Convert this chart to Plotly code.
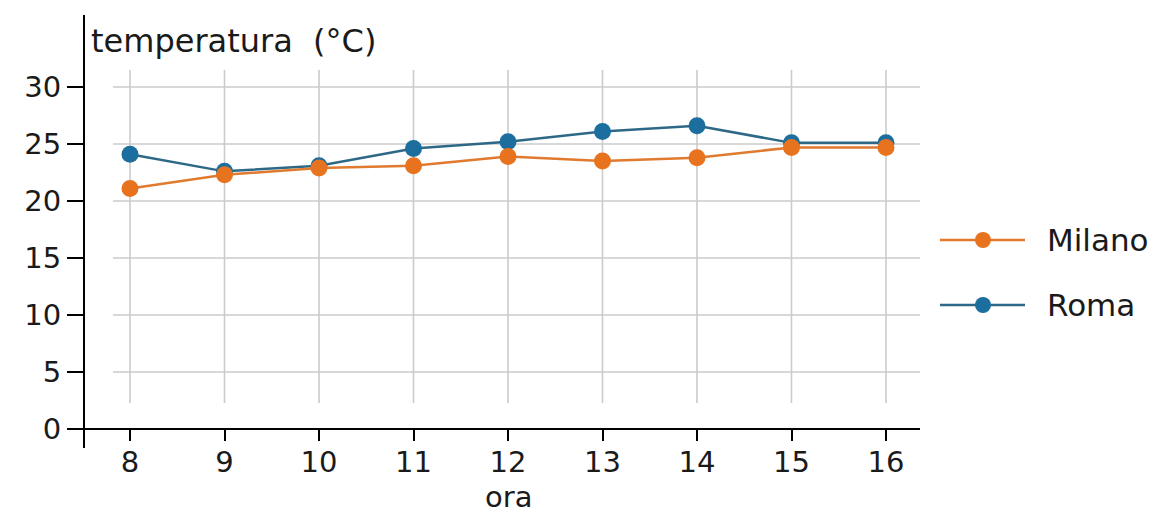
import plotly.graph_objects as go

# ---- data ----
ore = [8, 9, 10, 11, 12, 13, 14, 15, 16]
milano = [21.1, 22.3, 22.9, 23.1, 23.9, 23.5, 23.8, 24.7, 24.7]
roma = [24.1, 22.6, 23.1, 24.6, 25.2, 26.1, 26.6, 25.1, 25.1]
y_ticks = [0, 5, 10, 15, 20, 25, 30]
series_names = ["Milano", "Roma"]
title_y = "temperatura (°C)"
title_x = "ora"

# ---- styling ----
W, H = 1160, 514
L, R, T, B = 68, 240, 15, 66
PW, PH = W - L - R, H - T - B
FONT = "DejaVu Sans"
ORANGE_M, ORANGE_L = "#E8731F", "#E07A2E"
BLUE_M, BLUE_L = "#1B6E9E", "#2D6886"
GRID = "#cbcbcb"

# pixel scale: 94.5 px per hour (8 at x=130), 11.4 px per degree (0 at y=429)
px_h, px_d = 94.5, 11.4
xmin = ore[0] - (130 - L) / px_h
xmax = xmin + PW / px_h
ymin = -(H - B - 429) / px_d
ymax = ymin + PH / px_d
yaxis_pos = (84 - L) / PW
xaxis_pos = (0 - ymin) / (ymax - ymin)

fig = go.Figure()
fig.add_trace(go.Scatter(x=ore, y=roma, name=series_names[1], mode="lines+markers",
                         line=dict(color=BLUE_L, width=2.5),
                         marker=dict(color=BLUE_M, size=17), showlegend=False))
fig.add_trace(go.Scatter(x=ore, y=milano, name=series_names[0], mode="lines+markers",
                         line=dict(color=ORANGE_L, width=2.5),
                         marker=dict(color=ORANGE_M, size=17), showlegend=False))

shapes = []
# horizontal gridlines (not at 0), starting at x=113px
for v in y_ticks[1:]:
    shapes.append(dict(type="line", xref="x domain", yref="y", x0=(113 - L) / PW, x1=1,
                       y0=v, y1=v, line=dict(color=GRID, width=1.6), layer="below"))
# vertical gridlines from y=70px to 403px
g_top = (429 - 70) / px_d
g_bot = (429 - 403) / px_d
for h in ore:
    shapes.append(dict(type="line", xref="x", yref="y", x0=h, x1=h, y0=g_bot, y1=g_top,
                       line=dict(color=GRID, width=1.6), layer="below"))

# manual legend
annotations = []
leg = [(series_names[0], ORANGE_L, ORANGE_M, 240), (series_names[1], BLUE_L, BLUE_M, 305)]
for name, lc, mc, py in leg:
    yp = (H - B - py) / PH
    shapes.append(dict(type="line", xref="paper", yref="paper",
                       x0=(940 - L) / PW, x1=(1025 - L) / PW, y0=yp, y1=yp,
                       line=dict(color=lc, width=2.5)))
    shapes.append(dict(type="circle", xref="paper", yref="paper",
                       x0=(983 - 8 - L) / PW, x1=(983 + 8 - L) / PW,
                       y0=yp - 8 / PH, y1=yp + 8 / PH,
                       fillcolor=mc, line=dict(color=mc, width=0)))
    annotations.append(dict(text=name, xref="paper", yref="paper", x=(1045 - L) / PW, y=yp,
                            xanchor="left", yanchor="middle", showarrow=False,
                            font=dict(family=FONT, size=31, color="#1a1a1a")))

annotations.append(dict(text=title_y.replace(" ", "\u00a0\u00a0"), xref="paper", yref="paper",
                        x=(89 - L) / PW,
                        y=(H - B - 41) / PH, xanchor="left", yanchor="middle", showarrow=False,
                        font=dict(family=FONT, size=32, color="#1a1a1a")))
annotations.append(dict(text=title_x, xref="paper", yref="paper", x=(508 - L) / PW,
                        y=(H - B - 497) / PH, xanchor="center", yanchor="middle", showarrow=False,
                        font=dict(family=FONT, size=29, color="#1a1a1a")))

fig.update_layout(
    width=W, height=H, margin=dict(l=L, r=R, t=T, b=B),
    paper_bgcolor="white", plot_bgcolor="white",
    font=dict(family=FONT, color="#1a1a1a"),
    xaxis=dict(range=[xmin, xmax], anchor="free", position=xaxis_pos,
               showline=True, linecolor="black", linewidth=2,
               ticks="outside", ticklen=11, tickwidth=2, tickcolor="black",
               tickvals=ore, ticktext=[str(h) for h in ore], ticklabelstandoff=-4,
               tickfont=dict(size=29, family=FONT), showgrid=False, zeroline=False),
    xaxis2=dict(range=[xmin, xmax], overlaying="x", anchor="free", position=xaxis_pos,
                showline=False, ticks="inside", ticklen=13, tickwidth=2, tickcolor="black",
                tickvals=ore, showticklabels=False, showgrid=False, zeroline=False),
    yaxis=dict(range=[ymin, ymax], anchor="free", position=yaxis_pos,
               showline=True, linecolor="black", linewidth=2,
               ticks="outside", ticklen=16, tickwidth=2, tickcolor="black",
               tickvals=y_ticks, ticktext=[str(v) for v in y_ticks],
               tickfont=dict(size=29, family=FONT), showgrid=False, zeroline=False),
    yaxis2=dict(range=[ymin, ymax], overlaying="y", anchor="free", position=yaxis_pos,
                showline=False, ticks="inside", ticklen=13, tickwidth=2, tickcolor="black",
                tickvals=y_ticks, showticklabels=False, showgrid=False, zeroline=False),
    shapes=shapes, annotations=annotations, showlegend=False,
)

fig.write_html("out.html", config={"displayModeBar": False},
               post_script="document.body.style.margin='0';document.body.style.overflow='hidden';")
